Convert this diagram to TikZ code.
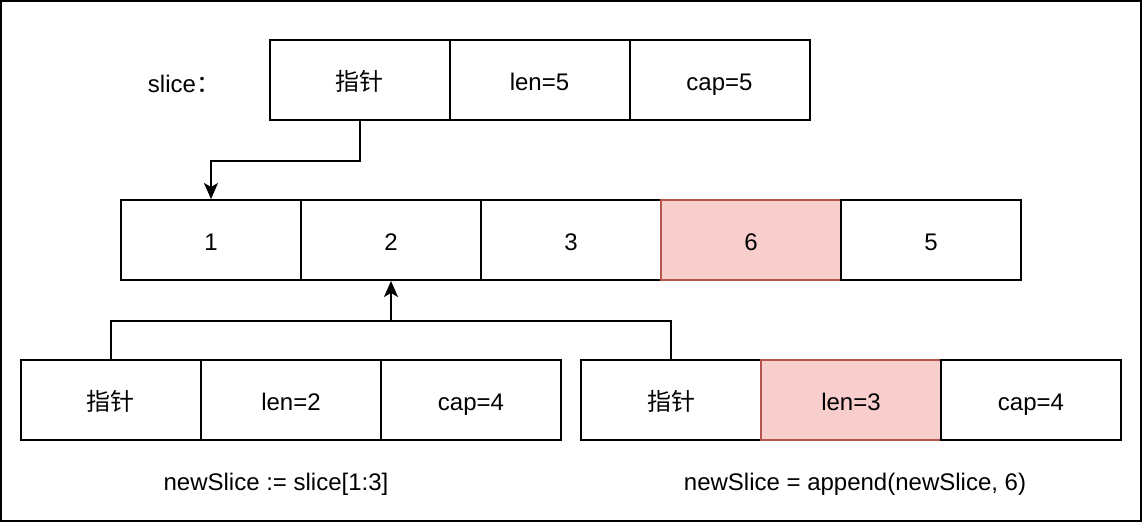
\documentclass[tikz,border=0pt]{standalone}
\usepackage{fontspec}
\setmainfont{Liberation Sans}
\newfontfamily\cjk{Noto Sans CJK SC}
\usepackage{tikz}
\usetikzlibrary{matrix, positioning, arrows.meta}
\definecolor{redfill}{HTML}{F8CECC}
\definecolor{redline}{HTML}{B85450}

\begin{document}
\begin{tikzpicture}[x=1pt, y=-1pt, line width=2pt,
	font=\fontsize{24}{28}\selectfont,
	>={Stealth[length=16pt,width=14pt,inset=4pt]}]
				
				\tikzset{cell row/.style={
						matrix of nodes,
						column sep=-\pgflinewidth,
						nodes={draw,
							minimum height=80pt,
							anchor=center,
							text width=180pt,
							text height=21pt,
							text depth=1pt,
							align=center,
							inner sep=0pt
						},
					},
					red cell/.style={fill=redfill, draw=redline}
				}
				
				\useasboundingbox (0,0) rectangle (1142,522);
				\draw (1,1) rectangle (1141,521);
				
				% slice header
				\node (lbl) at (184,84) {slice{\cjk ：}};
				\matrix[cell row] (sl) at (539.5,80)
				{
					{\cjk 指针} & len=5 & cap=5 \\
				};
				
				% underlying array
				\matrix[cell row] (arr) at (571,240)
				{
					1 & 2 & 3 & |[red cell]| 6 & 5 \\
				};
				
				% newSlice before and after append
				\matrix[cell row] (nsa) at (291,400)
				{
					{\cjk 指针} & len=2 & cap=4 \\
				};
				\matrix[cell row] (nsb) at (851,400)
				{
					{\cjk 指针} & |[red cell]| len=3 & cap=4 \\
				};
				
				\node (capa) at (276,484) {newSlice := slice[1:3]};
				\node (capb) at (855,484) {newSlice = append(newSlice, 6)};
				
				\draw[->] (sl-1-1.south) -- ++(0,40) -| (arr-1-1.north);
				\coordinate (jn) at ([yshift=-40pt]arr-1-2.south);
				\draw (nsa-1-1.north) |- (jn) -| (nsb-1-1.north);
				\draw[->] (jn) -- (arr-1-2.south);
				
\end{tikzpicture}
\end{document}
